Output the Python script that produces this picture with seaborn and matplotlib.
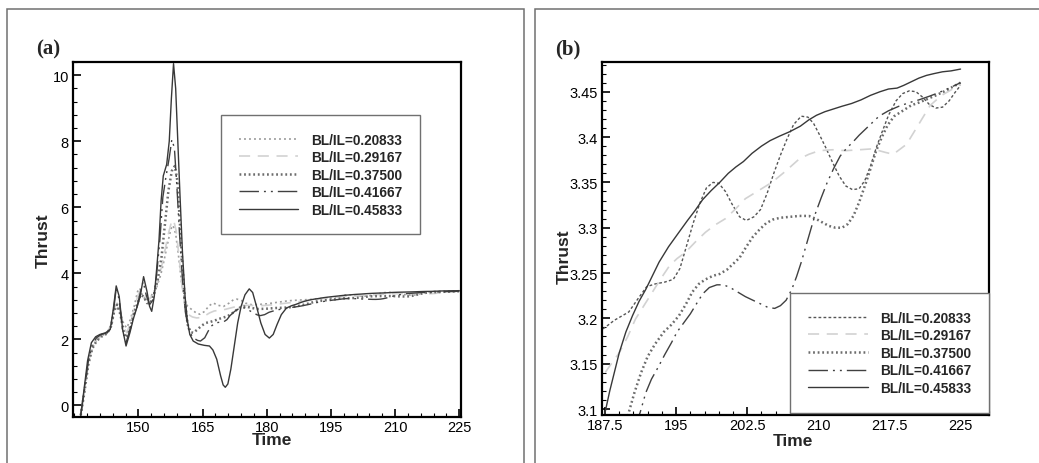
import numpy as np
import matplotlib
matplotlib.use("Agg")
import matplotlib.pyplot as plt
import seaborn as sns
from matplotlib.patches import Rectangle
from matplotlib.ticker import FixedLocator, MultipleLocator, FormatStrFormatter

# ---- data (time, thrust) ----
labels = ["BL/IL=0.20833", "BL/IL=0.29167", "BL/IL=0.37500", "BL/IL=0.41667", "BL/IL=0.45833"]

time_1 = [136.5, 137.3, 138.3, 139.2, 140.2, 141.3, 142.7, 143.6, 144.4, 145.0, 145.8, 146.6, 147.3,
          148.1, 149.0, 149.8, 150.3, 151.0, 151.8, 152.6, 153.4, 154.3, 155.2, 156.0, 156.8, 157.6,
          158.1, 158.7, 159.4, 160.1, 160.8, 161.5, 162.5, 163.5, 164.4, 165.5, 166.5, 167.5, 168.7,
          169.9, 171.2, 172.2, 173.0, 174.0, 175.0, 176.5, 178.4, 180.2, 182.3, 184.5, 186.0,
          187.5, 188.5, 190.0, 191.0, 191.9, 192.8, 193.8, 194.7, 195.4, 196.1, 196.8, 197.5, 198.2,
          198.9, 199.5, 200.2, 200.9, 201.7, 202.4, 203.2, 203.9, 204.6, 205.3, 206.0, 206.7, 207.4,
          208.2, 208.9, 209.5, 210.1, 210.8, 211.5, 212.2, 212.9, 213.6, 214.3, 214.9, 215.5, 216.1,
          216.7, 217.4, 218.2, 218.9, 219.6, 220.3, 221.0, 221.7, 222.4, 223.1, 223.8, 224.4, 225.0]
thrust_1 = [-0.3, 0.4, 1.3, 1.75, 1.98, 2.1, 2.2, 2.4, 2.85, 3.0, 2.8, 2.45, 2.35,
            2.6, 3.0, 3.45, 3.55, 3.3, 3.2, 3.25, 3.4, 3.6, 3.95, 4.4, 4.9, 5.35,
            5.45, 5.2, 4.5, 3.7, 3.2, 3.0, 2.9, 2.8, 2.76, 2.85, 3.02, 3.1, 3.03,
            3.0, 3.1, 3.2, 3.22, 3.18, 3.1, 3.05, 3.06, 3.08, 3.12, 3.16, 3.18,
            3.19, 3.198, 3.207, 3.222, 3.235, 3.238, 3.240, 3.243, 3.255, 3.28, 3.305, 3.327, 3.344,
            3.350, 3.349, 3.340, 3.326, 3.312, 3.308, 3.312, 3.320, 3.338, 3.360, 3.380, 3.398, 3.414,
            3.423, 3.422, 3.415, 3.403, 3.388, 3.372, 3.357, 3.346, 3.342, 3.343, 3.352, 3.368, 3.388,
            3.405, 3.424, 3.440, 3.448, 3.451, 3.450, 3.444, 3.436, 3.432, 3.433, 3.440, 3.449, 3.457]

time_2 = [136.5, 137.3, 138.3, 139.2, 140.2, 141.3, 142.7, 143.6, 144.4, 145.0, 145.8, 146.6, 147.3,
          148.1, 149.0, 149.8, 150.5, 151.2, 152.0, 152.8, 153.6, 154.5, 155.4, 156.2, 157.0, 157.7,
          158.2, 158.8, 159.5, 160.2, 160.9, 161.7, 162.6, 163.6, 164.6, 165.6, 166.6, 167.7, 168.8,
          170.0, 171.5, 173.0, 174.5, 176.0, 178.0, 180.0, 182.0, 184.0, 186.0,
          187.5, 188.3, 189.0, 189.9, 190.7, 191.6, 192.5, 193.4, 194.3, 195.1, 196.0, 197.0, 198.1,
          199.1, 200.2, 201.2, 202.3, 203.7, 205.1, 206.5, 208.0, 209.0, 210.1, 211.5, 212.9, 214.3,
          215.7, 217.1, 217.9, 219.3, 220.7, 221.8, 223.0, 224.0, 225.0]
thrust_2 = [-0.3, 0.4, 1.3, 1.78, 2.0, 2.1, 2.2, 2.45, 2.95, 3.1, 2.85, 2.35, 2.2,
            2.5, 2.9, 3.3, 3.5, 3.4, 3.2, 3.25, 3.45, 3.75, 4.2, 4.7, 5.2, 5.55,
            5.62, 5.3, 4.5, 3.6, 3.0, 2.75, 2.68, 2.65, 2.66, 2.72, 2.8, 2.86, 2.88,
            2.9, 2.95, 3.0, 3.03, 3.03, 3.02, 3.03, 3.06, 3.09, 3.12,
            3.140, 3.152, 3.162, 3.180, 3.199, 3.214, 3.229, 3.244, 3.258, 3.266, 3.273, 3.284, 3.295,
            3.303, 3.310, 3.320, 3.332, 3.341, 3.350, 3.362, 3.376, 3.381, 3.385, 3.386, 3.385, 3.386,
            3.387, 3.383, 3.381, 3.392, 3.416, 3.435, 3.446, 3.452, 3.458]

time_3 = [136.5, 137.3, 138.3, 139.2, 140.2, 141.3, 142.7, 143.6, 144.4, 145.0, 145.8, 146.6, 147.3,
          148.1, 149.0, 149.8, 150.5, 151.2, 152.0, 152.8, 153.6, 154.5, 155.4, 156.2, 157.0, 157.8,
          158.5, 159.1, 159.7, 160.3, 160.9, 161.5, 162.2, 162.8, 163.8, 164.8, 165.8, 166.8, 167.8,
          168.8, 169.8, 170.8, 171.8, 172.8, 173.8, 175.0, 176.5, 178.0, 180.0, 182.0, 184.0, 186.0,
          188.0, 189.0,
          190.0, 190.6, 191.3, 192.0, 192.8, 193.7, 194.5, 195.3, 196.0, 196.7, 197.4, 198.1, 198.9,
          199.6, 200.4, 201.0, 201.7, 202.4, 203.1, 203.8, 204.5, 205.2, 206.0, 207.0, 208.0, 209.0,
          209.7, 210.4, 211.1, 211.8, 212.5, 213.1, 213.7, 214.3, 214.9, 215.5, 216.1, 216.7, 217.3,
          218.0, 218.9, 219.8, 220.6, 221.5, 222.4, 223.2, 224.1, 225.0]
thrust_3 = [-0.3, 0.35, 1.25, 1.72, 1.95, 2.08, 2.18, 2.4, 2.9, 3.05, 2.75, 2.2, 2.05,
            2.35, 2.8, 3.1, 3.35, 3.3, 3.1, 3.1, 3.35, 3.8, 4.5, 5.5, 6.5, 7.1,
            7.25, 6.8, 5.5, 4.2, 3.1, 2.45, 2.22, 2.2, 2.3, 2.42, 2.5, 2.53, 2.57,
            2.62, 2.66, 2.7, 2.78, 2.88, 2.97, 3.0, 2.95, 2.92, 2.93, 2.95, 2.96, 2.98,
            3.03, 3.06,
            3.096, 3.118, 3.140, 3.158, 3.172, 3.185, 3.193, 3.203, 3.215, 3.229, 3.238, 3.243, 3.247,
            3.249, 3.254, 3.260, 3.267, 3.279, 3.290, 3.298, 3.305, 3.309, 3.311, 3.312, 3.313, 3.313,
            3.310, 3.306, 3.302, 3.300, 3.300, 3.304, 3.313, 3.328, 3.346, 3.365, 3.385, 3.400, 3.413,
            3.423, 3.429, 3.435, 3.438, 3.442, 3.446, 3.450, 3.455, 3.460]

time_4 = [136.5, 137.3, 138.3, 139.2, 140.2, 141.3, 142.7, 143.6, 144.3, 144.8, 145.5, 146.3, 147.1,
          147.9, 148.8, 149.6, 150.4, 151.1, 151.8, 152.6, 153.4, 154.2, 155.0, 155.7, 156.4, 157.2,
          157.8, 158.4, 159.0, 159.6, 160.3, 161.0, 161.8, 162.8, 163.8, 164.5, 165.5, 166.3, 167.0,
          168.0, 169.0, 169.9, 170.7, 171.4, 172.5, 173.8, 175.0, 176.5, 177.8, 178.5, 179.5, 180.5,
          182.0, 183.5, 185.0, 186.5, 188.0, 189.5, 190.4,
          191.2, 191.8, 192.4, 193.1, 193.8, 194.5, 195.1, 195.8, 196.5, 197.2, 197.8, 198.5, 199.3,
          200.0, 200.7, 201.5, 202.3, 203.1, 203.9, 204.7, 205.4, 206.0, 206.6, 207.2, 207.7, 208.2,
          208.7, 209.2, 209.7, 210.3, 210.9, 211.6, 212.3, 213.0, 213.6, 214.3, 215.0, 215.7, 216.4,
          217.4, 218.5, 219.6, 220.6, 221.7, 222.7, 223.8, 225.0]
thrust_4 = [-0.3, 0.4, 1.35, 1.85, 2.05, 2.15, 2.2, 2.35, 3.0, 3.55, 3.2, 2.25, 1.9,
            2.25, 2.7, 2.95, 3.4, 3.75, 3.35, 3.05, 3.2, 3.9, 5.0, 6.3, 6.9, 7.5,
            8.05, 7.8, 6.6, 5.2, 3.8, 2.8, 2.25, 2.05, 1.97, 1.95, 2.05, 2.25, 2.4,
            2.5, 2.52, 2.53, 2.6, 2.72, 2.85, 2.96, 2.95, 2.83, 2.74, 2.72, 2.75, 2.82,
            2.88, 2.92, 2.95, 2.98, 3.01, 3.05, 3.075,
            3.096, 3.118, 3.133, 3.146, 3.160, 3.173, 3.185, 3.195, 3.205, 3.217, 3.227, 3.234, 3.237,
            3.237, 3.234, 3.229, 3.224, 3.220, 3.216, 3.212, 3.211, 3.214, 3.220, 3.232, 3.246, 3.262,
            3.280, 3.298, 3.316, 3.333, 3.349, 3.365, 3.379, 3.388, 3.394, 3.402, 3.409, 3.416, 3.423,
            3.429, 3.434, 3.438, 3.441, 3.445, 3.449, 3.454, 3.460]

time_5 = [136.5, 137.2, 138.1, 139.0, 140.0, 141.0, 142.3, 143.4, 144.1, 144.8, 145.5, 146.3, 147.1,
          148.0, 148.8, 149.6, 150.4, 151.2, 152.0, 152.6, 153.1, 153.7, 154.3, 154.8, 155.3, 155.8,
          156.6, 157.2, 157.7, 158.2, 158.7, 159.2, 159.7, 160.3, 160.9, 161.4, 162.0, 162.8, 164.0,
          165.4, 166.6, 167.4, 168.3, 169.2, 169.8, 170.3, 170.9, 171.6, 172.4, 173.2, 174.0, 174.9,
          175.9, 176.7, 177.6, 178.6, 179.6, 180.6, 181.5, 182.4, 183.4, 184.6, 185.8, 186.8,
          187.5, 188.0, 188.5, 189.0, 189.7, 190.4, 191.1, 191.8, 192.5, 193.2, 194.2, 195.3, 196.2,
          197.0, 197.8, 198.7, 199.6, 200.5, 201.3, 202.1, 203.0, 204.0, 204.9, 205.9, 207.0, 208.1,
          209.0, 209.8, 210.7, 211.6, 212.5, 213.5, 214.5, 215.5, 216.5, 217.4, 218.3, 219.0, 219.8,
          220.6, 221.4, 222.2, 223.1, 224.0, 225.0]
thrust_5 = [-0.3, 0.4, 1.35, 1.9, 2.08, 2.15, 2.2, 2.3, 2.9, 3.62, 3.3, 2.3, 1.8,
            2.2, 2.62, 2.95, 3.3, 3.9, 3.45, 3.0, 2.85, 3.3, 4.2, 5.0, 6.2, 6.95,
            7.3, 8.0, 9.3, 10.35, 9.6, 8.0, 6.4, 4.6, 3.3, 2.6, 2.15, 1.95, 1.86,
            1.82, 1.8, 1.68, 1.4, 0.9, 0.62, 0.55, 0.65, 1.1, 1.8, 2.5, 3.0, 3.35,
            3.53, 3.42, 3.0, 2.5, 2.15, 2.04, 2.15, 2.45, 2.75, 2.95, 3.02, 3.06,
            3.096, 3.12, 3.141, 3.162, 3.185, 3.203, 3.219, 3.232, 3.247, 3.262, 3.279, 3.295, 3.308,
            3.319, 3.331, 3.341, 3.350, 3.360, 3.367, 3.373, 3.382, 3.390, 3.396, 3.401, 3.406, 3.412,
            3.419, 3.424, 3.428, 3.431, 3.434, 3.437, 3.441, 3.446, 3.450, 3.453, 3.454, 3.457, 3.461,
            3.465, 3.468, 3.470, 3.472, 3.473, 3.475]

times = [time_1, time_2, time_3, time_4, time_5]
thrusts = [thrust_1, thrust_2, thrust_3, thrust_4, thrust_5]

# line styles: (color, linewidth, dash pattern or None) for panel (a) and panel (b)
styles_a = [("#9c9c9c", 1.2, (1.4, 2.2)),
            ("#d2d2d2", 1.2, (8.0, 5.5)),
            ("#6c6c6c", 1.8, (1.3, 2.0)),
            ("#404040", 1.0, (14.0, 3.6, 1.4, 3.6, 1.4, 3.6)),
            ("#383838", 1.0, None)]
styles_b = [("#555555", 1.0, (2.0, 1.6))] + styles_a[1:]

sns.set_theme(style="white")
plt.rcParams["font.family"] = ["Liberation Sans", "DejaVu Sans"]
plt.rcParams["lines.scale_dashes"] = False

W, H = 1039, 464
fig = plt.figure(figsize=(W / 100, H / 100), dpi=100)

# panel frames
fig.add_artist(Rectangle((7 / W, -0.05), (524 - 7) / W, 1.05 - 10 / H, transform=fig.transFigure,
                         fill=False, edgecolor="#707070", linewidth=1.1))
fig.add_artist(Rectangle((535 / W, -0.05), (W + 20 - 535) / W, 1.05 - 10 / H, transform=fig.transFigure,
                         fill=False, edgecolor="#707070", linewidth=1.1))


def make_axes(x0, x1, ytop, ybot):
    return fig.add_axes([x0 / W, 1 - ybot / H, (x1 - x0) / W, (ybot - ytop) / H])


def style_axes(ax):
    for sp in ax.spines.values():
        sp.set_visible(True)
        sp.set_color("black")
        sp.set_linewidth(1.6)
    ax.tick_params(which="both", direction="in", top=False, right=False, bottom=True, left=True,
                   colors="black", labelsize=10.5)
    ax.tick_params(which="major", length=5.5, width=1.2)
    ax.tick_params(which="minor", length=2.8, width=0.8)
    ax.tick_params(axis="x", pad=2)
    ax.tick_params(axis="y", pad=3)
    ax.grid(False)
    ax.set_facecolor("white")


def draw_series(ax, styles):
    for t, v, lab, (col, lw, dash) in zip(times, thrusts, labels, styles):
        ls = "-" if dash is None else (0, dash)
        sns.lineplot(x=t, y=v, ax=ax, color=col, linewidth=lw, linestyle=ls, label=lab,
                     estimator=None, sort=False)


def add_legend(ax, anchor):
    leg = ax.legend(loc="upper left", bbox_to_anchor=anchor, frameon=True, fancybox=False,
                    framealpha=1, edgecolor="#707070", prop={"weight": "bold", "size": 9.8},
                    handlelength=4.4, handletextpad=0.95, labelspacing=0.26, borderpad=1.3,
                    borderaxespad=0)
    leg.get_frame().set_linewidth(1.0)
    return leg


# ---- panel (a) ----
ax1 = make_axes(73, 461, 63, 418)
draw_series(ax1, styles_a)
style_axes(ax1)
ax1.set_xlim(134.7, 225.4)
ax1.set_ylim(-0.35, 10.4)
ax1.xaxis.set_major_locator(FixedLocator([150, 165, 180, 195, 210, 225]))
ax1.xaxis.set_minor_locator(MultipleLocator(3))
ax1.yaxis.set_major_locator(MultipleLocator(2))
ax1.yaxis.set_minor_locator(MultipleLocator(0.4))
ax1.set_xlabel("Time", fontsize=12.5, fontweight="bold")
ax1.set_ylabel("Thrust", fontsize=12.5, fontweight="bold")
ax1.xaxis.set_label_coords(0.512, -0.043)
ax1.yaxis.set_label_coords(-0.058, 0.5)
add_legend(ax1, (0.381, 0.851))

# ---- panel (b) ----
ax2 = make_axes(601.7, 989, 63, 416)
draw_series(ax2, styles_b)
style_axes(ax2)
ax2.set_xlim(187.15, 228.0)
ax2.set_ylim(3.0934, 3.4828)
ax2.xaxis.set_major_locator(FixedLocator([187.5, 195, 202.5, 210, 217.5, 225]))
ax2.xaxis.set_minor_locator(MultipleLocator(1.5))
ax2.xaxis.set_major_formatter(FormatStrFormatter("%g"))
ax2.yaxis.set_major_locator(FixedLocator([3.1, 3.15, 3.2, 3.25, 3.3, 3.35, 3.4, 3.45]))
ax2.yaxis.set_minor_locator(MultipleLocator(0.01))
ax2.yaxis.set_major_formatter(FormatStrFormatter("%g"))
ax2.set_xlabel("Time", fontsize=12.5, fontweight="bold")
ax2.set_ylabel("Thrust", fontsize=12.5, fontweight="bold")
ax2.xaxis.set_label_coords(0.494, -0.05)
ax2.yaxis.set_label_coords(-0.078, 0.45)
add_legend(ax2, (0.486, 0.3456))

# panel letters
fig.text(36 / W, 1 - 49 / H, "(a)", family=["Liberation Serif", "DejaVu Serif"], fontweight="bold",
         fontsize=15, ha="left", va="center")
fig.text(555 / W, 1 - 49 / H, "(b)", family=["Liberation Serif", "DejaVu Serif"], fontweight="bold",
         fontsize=15, ha="left", va="center")

fig.savefig("out.png", dpi=100, facecolor="white")
